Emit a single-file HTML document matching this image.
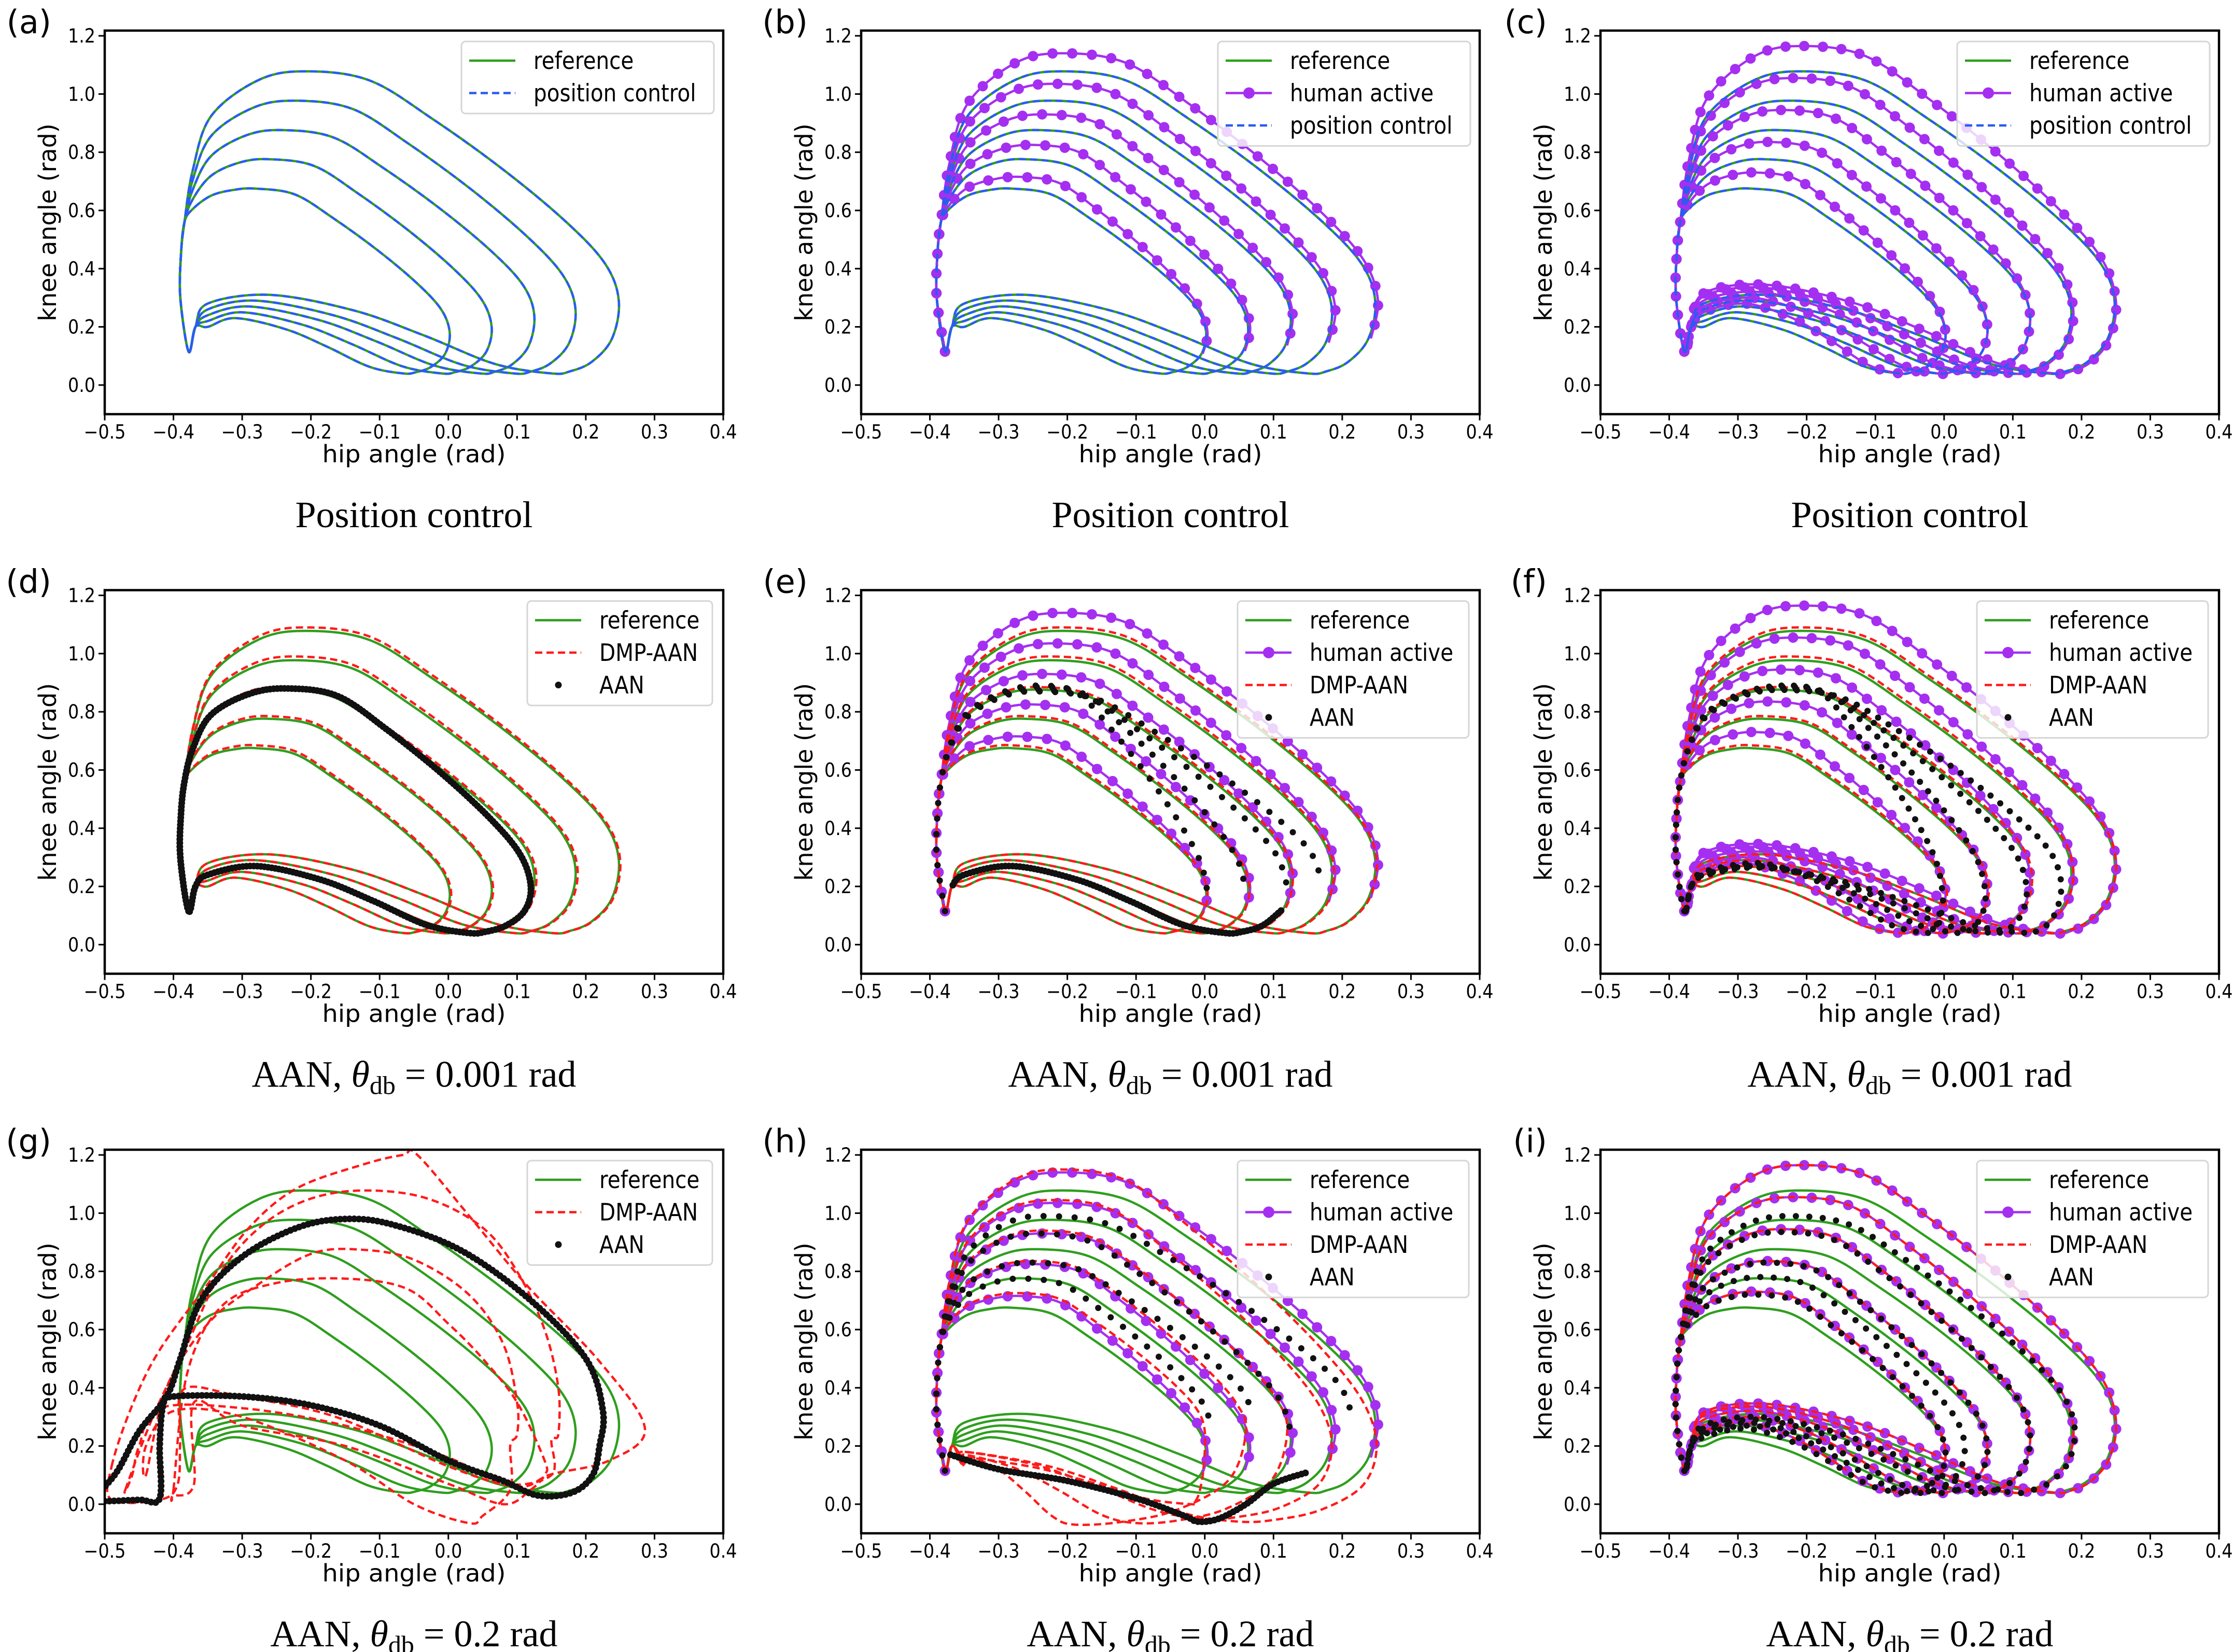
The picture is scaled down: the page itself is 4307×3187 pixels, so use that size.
<!DOCTYPE html>
<html><head><meta charset="utf-8"><title>Hip-knee trajectories</title>
<style>
html,body{margin:0;padding:0;background:#fff;}
svg{display:block;}
</style></head>
<body>
<svg id="fig" xmlns="http://www.w3.org/2000/svg" width="4307" height="3187" viewBox="0 0 4307 3187"></svg>
<script>
// ---------- data ----------
const hipTicks = [-0.5,-0.4,-0.3,-0.2,-0.1,0.0,0.1,0.2,0.3,0.4];
const hipTickLabels = ["\u22120.5","\u22120.4","\u22120.3","\u22120.2","\u22120.1","0.0","0.1","0.2","0.3","0.4"];
const kneeTicks = [0.0,0.2,0.4,0.6,0.8,1.0,1.2];
const kneeTickLabels = ["0.0","0.2","0.4","0.6","0.8","1.0","1.2"];
const panelLetters = ["(a)","(b)","(c)","(d)","(e)","(f)","(g)","(h)","(i)"];

// reference gait loops
const refTop = [1.078,0.977,0.876,0.776,0.675];
const refTopX = [-0.205,-0.22,-0.24,-0.26,-0.28];
const refRight = [0.248,0.185,0.125,0.063,0.002];
const refRightY = [0.29,0.26,0.24,0.2,0.18];
const refBotX = [0.15,0.095,0.046,-0.01,-0.066];
const refHump = [0.31,0.29,0.27,0.25,0.23];
const refHumpX = [-0.26,-0.28,-0.29,-0.30,-0.31];

// human active (b, e, h) - upper arcs
const humTop = [1.14,1.035,0.93,0.825,0.715];
const humTopX = [-0.205,-0.215,-0.23,-0.245,-0.265];
const humRight = [0.252,0.19,0.128,0.066,0.004];
const humRightY = [0.29,0.26,0.24,0.2,0.18];

// human active (c, f, i) - full loops
const hum2Top = [1.165,1.055,0.945,0.835,0.73];
const hum2TopX = [-0.205,-0.215,-0.23,-0.25,-0.27];
const hum2Right = [0.25,0.188,0.125,0.063,0.002];
const hum2RightY = [0.29,0.26,0.24,0.2,0.18];
const hum2BotX = [0.16,0.1,0.05,-0.01,-0.065];
const hum2Hump = [0.345,0.335,0.32,0.30,0.28];
const hum2HumpX = [-0.26,-0.265,-0.27,-0.28,-0.29];

// DMP-AAN (d, e, f)
const dmpTop = [1.09,0.99,0.885,0.785,0.685];
const dmpRight = [0.25,0.188,0.128,0.065,0.004];

// AAN (d)
const aanDTop = [0.88];
const aanDTopX = [-0.23];
const aanDRight = [0.12];
const aanDRightY = [0.2];
const aanDBotX = [0.03];
const aanDHump = [0.27];
const aanDHumpX = [-0.28];

// AAN (e) sparse upper arcs
const aanETop = [0.89,0.885,0.875,0.87];
const aanETopX = [-0.23,-0.23,-0.24,-0.24];
const aanERight = [0.005,0.06,0.12,0.17];
const aanERightY = [0.16,0.18,0.2,0.22];

// AAN (f) sparse full loops
const aanFTop = [0.89,0.885,0.88,0.875];
const aanFTopX = [-0.22,-0.22,-0.23,-0.23];
const aanFRight = [-0.002,0.06,0.12,0.17];
const aanFRightY = [0.17,0.18,0.2,0.22];
const aanFBotX = [-0.03,0.02,0.07,0.12];
const aanFHump = [0.28,0.275,0.27,0.265];
const aanFHumpX = [-0.27,-0.27,-0.27,-0.27];

// DMP-AAN (h)
const dmpHTop = [1.15,1.045,0.94,0.835,0.725];
const dmpHRight = [0.25,0.185,0.12,0.06,0.0];
const dmpHRightY = [0.2,0.2,0.25,0.25,0.25];
const dmpHBotX = [0.05,0.0,-0.1,-0.19,-0.02];
const dmpHBotY = [-0.06,-0.05,-0.065,-0.07,0.0];
const dmpHHump = [0.18,0.18,0.17,0.17,0.16];
const dmpHHumpX = [-0.35,-0.35,-0.35,-0.35,-0.35];

// AAN (h)
const aanHTop = [0.99,0.93,0.83,0.775];
const aanHTopX = [-0.23,-0.24,-0.25,-0.26];
const aanHRight = [0.215,0.125,0.07,0.01];
const aanHRightY = [0.3,0.25,0.3,0.26];
const aanHLower = [[-0.37,0.17],[-0.3,0.12],[-0.2,0.08],[-0.1,0.02],[-0.03,-0.04],[-0.01,-0.06],[0.02,-0.05],[0.06,0.0],[0.1,0.07],[0.15,0.11]];

// AAN (i)
const aanITop = [0.99,0.935,0.83,0.78,0.72];
const aanITopX = [-0.22,-0.23,-0.25,-0.26,-0.27];
const aanIRight = [0.19,0.125,0.063,0.03,0.002];
const aanIRightY = [0.26,0.24,0.2,0.2,0.18];
const aanIBotX = [0.1,0.05,-0.01,-0.04,-0.065];
const aanIHump = [0.3,0.29,0.28,0.27,0.26];
const aanIHumpX = [-0.27,-0.27,-0.28,-0.28,-0.29];

// panel (g) DMP-AAN loops
const dmpG1 = [[-0.49,0.13],[-0.46,0.34],[-0.42,0.53],[-0.352,0.75],[-0.29,0.95],[-0.22,1.086],[-0.12,1.17],[-0.066,1.2],[-0.045,1.2],[0.032,0.986],[0.115,0.75],[0.22,0.49],[0.286,0.26],[0.234,0.15],[0.15,0.103],[0.1,0.06],[0.0,0.13],[-0.164,0.3],[-0.303,0.37],[-0.385,0.395],[-0.39,0.22],[-0.394,0.068],[-0.42,0.015],[-0.49,0.015]];
const dmpG2 = [[-0.47,0.05],[-0.43,0.3],[-0.38,0.55],[-0.33,0.8],[-0.27,0.96],[-0.2,1.05],[-0.12,1.078],[-0.03,1.05],[0.05,0.95],[0.1,0.8],[0.14,0.6],[0.16,0.4],[0.16,0.24],[0.15,0.22],[0.15,0.1],[0.08,0.07],[0.0,0.16],[-0.15,0.27],[-0.3,0.33],[-0.42,0.33],[-0.45,0.2],[-0.46,0.1]];
const dmpG3 = [[-0.44,0.1],[-0.41,0.4],[-0.35,0.62],[-0.28,0.75],[-0.2,0.86],[-0.13,0.875],[-0.05,0.84],[0.03,0.72],[0.08,0.55],[0.1,0.35],[0.1,0.24],[0.09,0.2],[0.09,0.05],[0.05,-0.04],[0.03,-0.065],[-0.05,0.0],[-0.15,0.15],[-0.3,0.3],[-0.4,0.32],[-0.44,0.2]];
const dmpG4 = [[-0.4,0.05],[-0.38,0.45],[-0.33,0.68],[-0.25,0.76],[-0.15,0.775],[-0.06,0.74],[0.0,0.62],[0.05,0.5],[0.1,0.35],[0.14,0.15],[0.14,0.1],[0.12,0.05],[0.08,0.0],[0.0,0.07],[-0.15,0.2],[-0.3,0.27],[-0.37,0.35],[-0.37,0.07],[-0.4,0.03]];
// panel (g) AAN path
const aanG = [[-0.5,0.01],[-0.45,0.015],[-0.42,0.02],[-0.42,0.2],[-0.415,0.34],[-0.4,0.37],[-0.3,0.37],[-0.2,0.34],[-0.1,0.27],[0.0,0.15],[0.08,0.08],[0.13,0.03],[0.18,0.04],[0.21,0.1],[0.22,0.2],[0.225,0.32],[0.2,0.5],[0.12,0.7],[0.02,0.87],[-0.08,0.96],[-0.15,0.98],[-0.22,0.95],[-0.3,0.85],[-0.36,0.7],[-0.39,0.5],[-0.41,0.37],[-0.45,0.25],[-0.48,0.12],[-0.5,0.06]];

// ---------- layout ----------
const NS = "http://www.w3.org/2000/svg";
const svg = document.getElementById("fig");
const COLX = [202,1661,3087];
const ROWY = [59,1138.5,2218];
const AW = 1193, AH = 740;
const XMIN=-0.5, XMAX=0.4, YMIN=-0.1, YMAX=1.218;
const GREEN="#2e9e1e", BLUE="#2a5cf0", PURPLE="#a52ff0", RED="#ff1a1a";
const SANS='"DejaVu Sans","Liberation Sans",sans-serif';
const SERIF='"Liberation Serif","DejaVu Serif",serif';

function mk(tag, parent){ const e=document.createElementNS(NS,tag); parent.appendChild(e); return e; }
function condense(t, f){
  const w=t.getComputedTextLength();
  if(w>0){ t.setAttribute("textLength",(w*f).toFixed(1)); t.setAttribute("lengthAdjust","spacingAndGlyphs"); }
}

function loopParts(T,tx,R,rY,bx,by,H,hx){
  const upper=[[-0.378,0.115],[-0.39,0.3],[-0.389,0.45],[-0.384,0.56],
    [-0.372,0.58+0.33*(T-0.6)],[-0.345,0.6+0.68*(T-0.6)],[(tx-0.345)/2,T-0.06*(T-0.6)],[tx,T]];
  [[0.2,0.04],[0.4,0.206],[0.63,0.43],[0.832,0.658],[0.956,0.839]].forEach(([u,v])=>upper.push([tx+u*(R-tx),T-v*(T-rY)]));
  upper.push([R,rY]);
  const lower=[];
  [[0.1,0.52],[0.4,0.84],[0.72,0.97]].forEach(([u,v])=>lower.push([R-u*(R-bx),rY-v*(rY-by)]));
  lower.push([bx,by]);
  [[0.2,0.12],[0.45,0.48],[0.7,0.8]].forEach(([u,v])=>lower.push([bx+u*(hx-bx),by+v*(H-by)]));
  lower.push([hx,H],[-0.35,H-0.03],[-0.368,0.2]);
  return {upper,lower};
}

function crPath(P, closed){
  const n=P.length; let d="M"+P[0][0].toFixed(1)+","+P[0][1].toFixed(1);
  const segs = closed? n : n-1;
  for(let i=0;i<segs;i++){
    const p0 = closed? P[(i-1+n)%n] : P[Math.max(i-1,0)];
    const p1=P[i], p2=P[(i+1)%n];
    const p3 = closed? P[(i+2)%n] : P[Math.min(i+2,n-1)];
    const c1=[p1[0]+(p2[0]-p0[0])/6, p1[1]+(p2[1]-p0[1])/6];
    const c2=[p2[0]-(p3[0]-p1[0])/6, p2[1]-(p3[1]-p1[1])/6];
    d+="C"+c1[0].toFixed(1)+","+c1[1].toFixed(1)+" "+c2[0].toFixed(1)+","+c2[1].toFixed(1)+" "+p2[0].toFixed(1)+","+p2[1].toFixed(1);
  }
  if(closed) d+="Z";
  return d;
}

function panel(idx){
  const col=idx%3, row=Math.floor(idx/3);
  const ax={l:COLX[col], t:ROWY[row], w:AW, h:AH};
  const sx=v=>ax.l+(v-XMIN)/(XMAX-XMIN)*ax.w;
  const sy=v=>ax.t+(YMAX-v)/(YMAX-YMIN)*ax.h;
  const g=mk("g",svg);
  
  

  const clip=mk("clipPath",g); clip.setAttribute("id","clip"+idx);
  const cr=mk("rect",clip); cr.setAttribute("x",ax.l); cr.setAttribute("y",ax.t); cr.setAttribute("width",ax.w); cr.setAttribute("height",ax.h);
  const plot=mk("g",g); plot.setAttribute("clip-path","url(#clip"+idx+")");
  
  

  const toPx = pts=>pts.map(p=>[sx(p[0]),sy(p[1])]);
  function line(pts, closed, color, dashed, name){
    const p=mk("path",plot);
    p.setAttribute("d",crPath(toPx(pts),closed));
    p.setAttribute("fill","none"); p.setAttribute("stroke",color);
    p.setAttribute("stroke-width","4.5"); p.setAttribute("stroke-linejoin","round");
    if(dashed) p.setAttribute("stroke-dasharray","14 8");
    
    
    return p;
  }
  function dots(pts, closed, color, r, spacing, name, withLine){
    const gg=mk("g",plot);
    
    
    const p=mk("path",gg);
    p.setAttribute("d",crPath(toPx(pts),closed));
    p.setAttribute("fill","none");
    if(withLine){ p.setAttribute("stroke",color); p.setAttribute("stroke-width","4.5"); } else p.setAttribute("stroke","none");
    const L=p.getTotalLength();
    for(let s=0;s<=L;s+=spacing){
      const q=p.getPointAtLength(s);
      const c=mk("circle",gg);
      c.setAttribute("cx",q.x.toFixed(1)); c.setAttribute("cy",q.y.toFixed(1)); c.setAttribute("r",r); c.setAttribute("fill",color);
      
      
    }
  }
  function refLoops(color,dashed,name,top,right){
    for(let i=0;i<5;i++){
      const lp=loopParts(top[i],refTopX[i],right[i],refRightY[i],refBotX[i],0.04,refHump[i],refHumpX[i]);
      line(lp.upper.concat(lp.lower),true,color,dashed,name+"-loop-"+(i+1));
    }
  }
  function humPartial(){
    for(let i=0;i<5;i++){
      const lp=loopParts(humTop[i],humTopX[i],humRight[i],humRightY[i],refBotX[i],0.04,refHump[i],refHumpX[i]);
      dots(lp.upper.concat([lp.lower[0]]),false,PURPLE,10,38,"human-active-loop-"+(i+1),true);
    }
  }
  function humFull(){
    for(let i=0;i<5;i++){
      const lp=loopParts(hum2Top[i],hum2TopX[i],hum2Right[i],hum2RightY[i],hum2BotX[i],0.04,hum2Hump[i],hum2HumpX[i]);
      dots(lp.upper.concat(lp.lower),true,PURPLE,10,36,"human-active-loop-"+(i+1),true);
    }
  }
  function hum2Dashed(){
    for(let i=0;i<5;i++){
      const lp=loopParts(hum2Top[i],hum2TopX[i],hum2Right[i],hum2RightY[i],hum2BotX[i],0.04,hum2Hump[i],hum2HumpX[i]);
      line(lp.upper.concat(lp.lower),true,RED,true,"dmp-aan-loop-"+(i+1));
    }
  }

  // series per panel
  refLoops(GREEN,false,"reference",refTop,refRight);
  if(idx===0){ refLoops(BLUE,true,"position-control",refTop,refRight); }
  if(idx===1){ humPartial(); refLoops(BLUE,true,"position-control",refTop,refRight); }
  if(idx===2){ humFull(); refLoops(BLUE,true,"position-control",refTop,refRight); }
  if(idx===3){
    refLoops(RED,true,"dmp-aan",dmpTop,dmpRight);
    const lp=loopParts(aanDTop[0],aanDTopX[0],aanDRight[0],aanDRightY[0],aanDBotX[0],0.04,aanDHump[0],aanDHumpX[0]);
    dots(lp.upper.concat(lp.lower),true,"#111",6.5,7,"aan-loop",false);
  }
  if(idx===4){
    humPartial();
    refLoops(RED,true,"dmp-aan",dmpTop,dmpRight);
    for(let i=0;i<aanETop.length;i++){
      const lp=loopParts(aanETop[i],aanETopX[i],aanERight[i],aanERightY[i],0.03,0.04,0.27,-0.28);
      dots(lp.upper,false,"#111",6,30,"aan-upper-"+(i+1),false);
    }
    const lp=loopParts(aanDTop[0],aanDTopX[0],aanDRight[0],aanDRightY[0],aanDBotX[0],0.04,aanDHump[0],aanDHumpX[0]);
    dots(lp.lower,false,"#111",6.5,7,"aan-lower",false);
  }
  if(idx===5){
    humFull();
    refLoops(RED,true,"dmp-aan",dmpTop,dmpRight);
    for(let i=0;i<aanFTop.length;i++){
      const lp=loopParts(aanFTop[i],aanFTopX[i],aanFRight[i],aanFRightY[i],aanFBotX[i],0.04,aanFHump[i],aanFHumpX[i]);
      dots(lp.upper.concat(lp.lower),true,"#111",6,24,"aan-loop-"+(i+1),false);
    }
  }
  if(idx===6){
    [dmpG1,dmpG2,dmpG3,dmpG4].forEach((L,i)=>line(L,true,RED,true,"dmp-aan-loop-"+(i+1)));
    dots(aanG,false,"#111",6.5,9,"aan-path",false);
  }
  if(idx===7){
    humPartial();
    for(let i=0;i<5;i++){
      const lp=loopParts(dmpHTop[i],humTopX[i],dmpHRight[i],dmpHRightY[i],dmpHBotX[i],dmpHBotY[i],dmpHHump[i],dmpHHumpX[i]);
      line(lp.upper.concat(lp.lower),true,RED,true,"dmp-aan-loop-"+(i+1));
    }
    for(let i=0;i<aanHTop.length;i++){
      const lp=loopParts(aanHTop[i],aanHTopX[i],aanHRight[i],aanHRightY[i],0.03,0.04,0.27,-0.28);
      dots(lp.upper,false,"#111",6,30,"aan-upper-"+(i+1),false);
    }
    dots(aanHLower,false,"#111",6.5,8,"aan-lower",false);
  }
  if(idx===8){
    humFull();
    hum2Dashed();
    for(let i=0;i<aanITop.length;i++){
      const lp=loopParts(aanITop[i],aanITopX[i],aanIRight[i],aanIRightY[i],aanIBotX[i],0.04,aanIHump[i],aanIHumpX[i]);
      dots(lp.upper.concat(lp.lower),true,"#111",6,26,"aan-loop-"+(i+1),false);
    }
  }

  // axes frame
  const fr=mk("rect",g);
  fr.setAttribute("x",ax.l); fr.setAttribute("y",ax.t); fr.setAttribute("width",ax.w); fr.setAttribute("height",ax.h);
  fr.setAttribute("fill","none"); fr.setAttribute("stroke","#000"); fr.setAttribute("stroke-width","4.5");
  
  

  hipTicks.forEach((v,i)=>{
    const x=sx(v);
    const t=mk("line",g); t.setAttribute("x1",x); t.setAttribute("x2",x); t.setAttribute("y1",ax.t+ax.h); t.setAttribute("y2",ax.t+ax.h+12);
    t.setAttribute("stroke","#000"); t.setAttribute("stroke-width","3");
    
    
    const tx=mk("text",g); tx.textContent=hipTickLabels[i];
    tx.setAttribute("x",x); tx.setAttribute("y",ax.t+ax.h+47); tx.setAttribute("text-anchor","middle");
    tx.setAttribute("font-family",SANS); tx.setAttribute("font-size","37");
    
    
    condense(tx,0.9);
  });
  kneeTicks.forEach((v,i)=>{
    const y=sy(v);
    const t=mk("line",g); t.setAttribute("x1",ax.l-12); t.setAttribute("x2",ax.l); t.setAttribute("y1",y); t.setAttribute("y2",y);
    t.setAttribute("stroke","#000"); t.setAttribute("stroke-width","3");
    
    
    const tx=mk("text",g); tx.textContent=kneeTickLabels[i];
    tx.setAttribute("x",ax.l-18); tx.setAttribute("y",y+13); tx.setAttribute("text-anchor","end");
    tx.setAttribute("font-family",SANS); tx.setAttribute("font-size","37");
    
    
    condense(tx,0.9);
  });
  const xl=mk("text",g); xl.textContent="hip angle (rad)";
  xl.setAttribute("x",ax.l+ax.w/2); xl.setAttribute("y",ax.t+ax.h+93); xl.setAttribute("text-anchor","middle");
  xl.setAttribute("font-family",SANS); xl.setAttribute("font-size","46");
  xl.setAttribute("textLength","354"); xl.setAttribute("lengthAdjust","spacingAndGlyphs");
  
  
  const yl=mk("text",g); yl.textContent="knee angle (rad)";
  const ycx=ax.l-94, ycy=ax.t+ax.h/2;
  yl.setAttribute("x",ycx); yl.setAttribute("y",ycy); yl.setAttribute("text-anchor","middle");
  yl.setAttribute("transform","rotate(-90 "+ycx+" "+ycy+")");
  yl.setAttribute("font-family",SANS); yl.setAttribute("font-size","46");
  
  

  const pl=mk("text",g); pl.textContent=panelLetters[idx];
  pl.setAttribute("x",ax.l-103); pl.setAttribute("y",ax.t+5); pl.setAttribute("text-anchor","end");
  pl.setAttribute("font-family",SANS); pl.setAttribute("font-size","62");
  
  

  // title
  const tt=mk("text",g);
  tt.setAttribute("x",ax.l+ax.w/2); tt.setAttribute("y",ax.t+958); tt.setAttribute("text-anchor","middle");
  tt.setAttribute("font-family",SERIF); tt.setAttribute("font-size","72");
  
  
  if(row===0){ tt.textContent="Position control"; }
  else {
    const a=mk("tspan",tt); a.textContent="AAN, ";
    const th=mk("tspan",tt); th.textContent="\u03B8"; th.setAttribute("font-style","italic");
    const sb=mk("tspan",tt); sb.textContent="db"; sb.setAttribute("font-size","50"); sb.setAttribute("dy","14");
    const rs=mk("tspan",tt); rs.textContent=row===1?" = 0.001 rad":" = 0.2 rad"; rs.setAttribute("dy","-14");
  }

  // legend
  let entries;
  if(idx===0) entries=[["reference","solid",GREEN],["position control","dashed",BLUE]];
  else if(row===0) entries=[["reference","solid",GREEN],["human active","marker",PURPLE],["position control","dashed",BLUE]];
  else if(col===0) entries=[["reference","solid",GREEN],["DMP-AAN","dashed",RED],["AAN","dot","#111"]];
  else entries=[["reference","solid",GREEN],["human active","marker",PURPLE],["DMP-AAN","dashed",RED],["AAN","dot","#111"]];
  let bw, bl;
  if(row===0){ bw=487; bl=ax.l+688; }
  else if(col===0){ bw=357; bl=ax.l+815; }
  else { bw=446; bl=ax.l+726; }
  const bt=ax.t+21, bh=entries.length*62.5+14;
  const lg=mk("g",g);
  
  
  const box=mk("rect",lg);
  box.setAttribute("x",bl); box.setAttribute("y",bt); box.setAttribute("width",bw); box.setAttribute("height",bh);
  box.setAttribute("rx","8"); box.setAttribute("fill","#fff"); box.setAttribute("fill-opacity","0.8");
  box.setAttribute("stroke","#d6d6d6"); box.setAttribute("stroke-width","3");
  
  
  entries.forEach((en,k)=>{
    const cy=bt+37+k*62.5;
    const eg=mk("g",lg);
    
    
    if(en[1]!=="dot"){
      const hl=mk("line",eg); hl.setAttribute("x1",bl+15); hl.setAttribute("x2",bl+104); hl.setAttribute("y1",cy); hl.setAttribute("y2",cy);
      hl.setAttribute("stroke",en[2]); hl.setAttribute("stroke-width","4.5");
      if(en[1]==="dashed") hl.setAttribute("stroke-dasharray","14 8");
    }
    if(en[1]==="marker"||en[1]==="dot"){
      const c=mk("circle",eg); c.setAttribute("cx",bl+60); c.setAttribute("cy",cy); c.setAttribute("r",en[1]==="dot"?6.5:11); c.setAttribute("fill",en[2]);
    }
    const lt=mk("text",eg); lt.textContent=en[0];
    lt.setAttribute("x",bl+139); lt.setAttribute("y",cy+16);
    lt.setAttribute("font-family",SANS); lt.setAttribute("font-size","46");
    condense(lt,0.88);
  });
}
for(let i=0;i<9;i++) panel(i);
</script>
</body></html>
